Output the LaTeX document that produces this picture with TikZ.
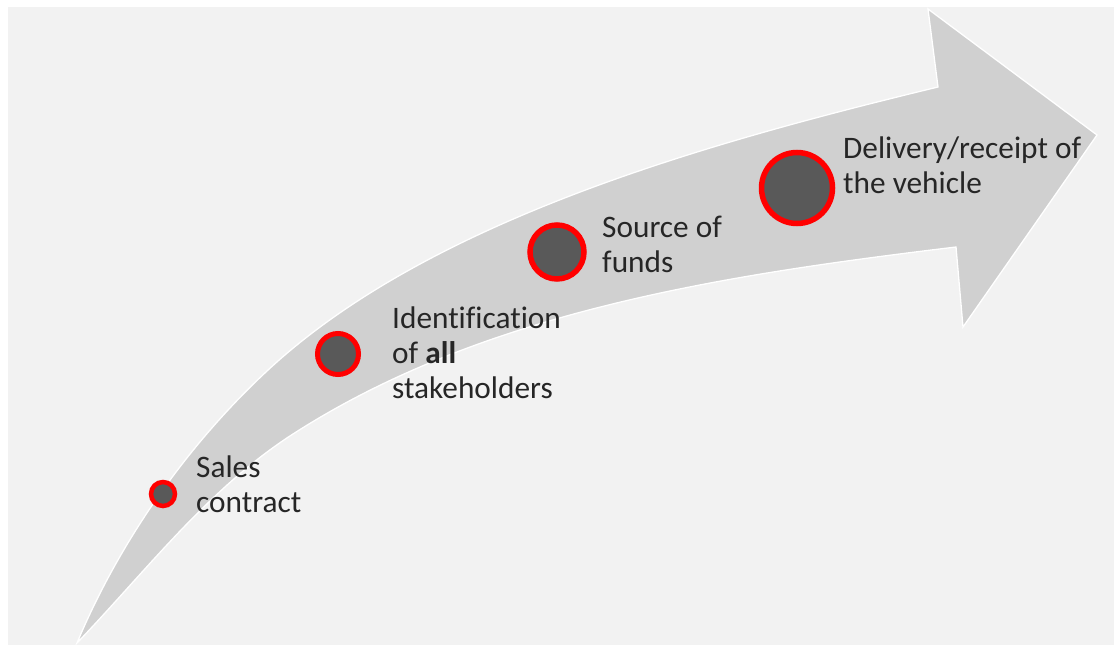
\documentclass[tikz,border=0pt]{standalone}
\usepackage{fontspec}
\setmainfont{Carlito}[Ligatures=NoCommon]
\definecolor{bg}{HTML}{F2F2F2}
\definecolor{arrowgray}{HTML}{D0D0D0}
\definecolor{dotgray}{HTML}{595959}
\definecolor{txt}{HTML}{262626}
\begin{document}
\begin{tikzpicture}[x=1pt,y=-1pt,
  dot/.style={circle, draw=red, fill=dotgray, inner sep=0pt},
  lbl/.style={anchor=base west, inner sep=0pt, align=left, text=txt,
    font=\fontsize{31.3}{35}\selectfont}]
\useasboundingbox (0,0) rectangle (1114,645);
\fill[white] (0,0) rectangle (1114,645);
\fill[bg] (8,7) rectangle (1114,645);
% curved arrow
\filldraw[fill=arrowgray, draw=white, line width=1.3pt, line join=miter]
  (77,643) .. controls (119.5,541.6) and (186.7,445.8) .. (267,371)
  .. controls (427.6,221.4) and (702,144) .. (938,87)
  -- (928,9) -- (1097,135) -- (963,327) -- (956,247)
  .. controls (728,274.6) and (486,309.8) .. (293,434)
  .. controls (209,488) and (146,571) .. (77,643)
  -- cycle;
% dots
\node[dot, minimum size=24pt, line width=4.5pt] (c1) at (163,494) {};
\node[dot, minimum size=41pt, line width=5pt] (c2) at (338,354) {};
\node[dot, minimum size=54pt, line width=5.5pt] (c3) at (557,252) {};
\node[dot, minimum size=71pt, line width=5.5pt] (c4) at (797,188) {};
% labels (anchor = baseline of last line)
\node[lbl] (t1) at (196,512) {Sales\\contract};
\node[lbl] (t2) at (392,398) {Identification\\of \textbf{all}\\stakeholders};
\node[lbl] (t3) at (602,272) {Source of\\funds};
\node[lbl] (t4) at (843,193) {Delivery/receipt of\\the vehicle};
\end{tikzpicture}
\end{document}
